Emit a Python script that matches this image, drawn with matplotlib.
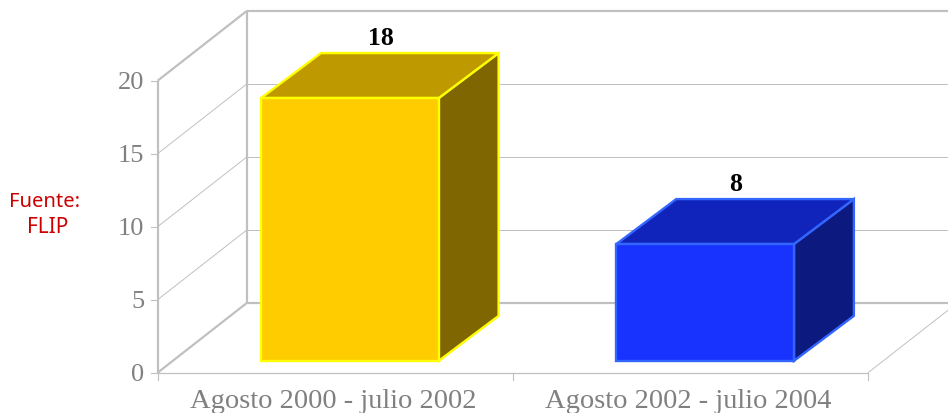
import matplotlib
matplotlib.use("Agg")
import matplotlib.pyplot as plt
from matplotlib.patches import Polygon

categories = ["Agosto 2000 - julio 2002", "Agosto 2002 - julio 2004"]
values = [18, 8]
y_ticks = [0, 5, 10, 15, 20]

COLOR_WALL = "#c0c0c0"
COLOR_TEXT = "#808080"
BAR_STYLES = [
    dict(front="#ffcc00", top="#bf9900", side="#806600", edge="#ffff00"),
    dict(front="#1933ff", top="#1024bb", side="#0c1a80", edge="#3366ff"),
]

W, H = 948, 414
X0_PX, X_UNIT_PX = 157.5, 355.25   # where category 0 starts, width of a category
Y0_PX, Y_UNIT_PX = 373.8, 14.6     # pixel row of value 0, pixels per unit
DEPTH_X = 89.5 / X_UNIT_PX         # oblique offset of the back wall, data units
DEPTH_Y = 70.0 / Y_UNIT_PX
BAR_W = 0.5
BAR_SHIFT = -0.5 / X_UNIT_PX
BAR_F0, BAR_F1 = 0.171, 0.84       # bar extent along the depth
BAR_DY = 0.96                      # bars are a little flatter than the walls


def pt(x, y, f=0.0):
    """Project (category x, value y, depth fraction f) on the oblique plane."""
    return (x + f * DEPTH_X, y + f * DEPTH_Y)


def bar_pt(x, y, f):
    """Same as pt, for a bar corner; the back edge of a bar sits a little lower."""
    g = BAR_F0 + (f - BAR_F0) * BAR_DY
    return (x + BAR_SHIFT + f * DEPTH_X, y + g * DEPTH_Y)


fig = plt.figure(figsize=(W / 100, H / 100), dpi=100)
ax = fig.add_axes([0, 0, 1, 1])
ax.set_xlim(-X0_PX / X_UNIT_PX, (W - X0_PX) / X_UNIT_PX)
ax.set_ylim(-(H - Y0_PX) / Y_UNIT_PX, Y0_PX / Y_UNIT_PX)
ax.axis("off")

n = len(categories)
x_end = n + 0.5  # back wall runs past the right edge of the picture
y_top = y_ticks[-1]


def line(a, b, lw):
    ax.plot([a[0], b[0]], [a[1], b[1]], color=COLOR_WALL, linewidth=lw,
            solid_capstyle="butt", zorder=1)


# Walls and gridlines
for v in y_ticks:
    thick = v in (y_ticks[0], y_ticks[-1])
    line(pt(0, v, 0), pt(0, v, 1), 1.6 if thick else 0.7)
    line(pt(0, v, 1), pt(x_end, v, 1), 1.6 if thick else 0.7)
    # tick mark on the front axis
    ax.plot([-7 / X_UNIT_PX, 0], [v, v], color=COLOR_WALL, linewidth=0.8, zorder=1)
    ax.text(-13 / X_UNIT_PX, v + 1 / Y_UNIT_PX, str(v), ha="right", va="center_baseline",
            family="Liberation Serif", fontsize=19, color=COLOR_TEXT)
line(pt(0, 0, 0), pt(0, y_top, 0), 1.6)
line(pt(0, 0, 1), pt(0, y_top, 1), 1.6)
line(pt(0, 0, 0), pt(n, 0, 0), 0.9)
line(pt(n, 0, 0), pt(n, 0, 1), 0.7)
for i in range(n + 1):
    ax.plot([i, i], [0, -7 / Y_UNIT_PX], color=COLOR_WALL, linewidth=0.8, zorder=1)

# Bars
for i, (val, st) in enumerate(zip(values, BAR_STYLES)):
    x1 = i + 0.5 - BAR_W / 2
    x2 = i + 0.5 + BAR_W / 2
    faces = [
        (st["side"], [bar_pt(x2, 0, BAR_F0), bar_pt(x2, 0, BAR_F1), bar_pt(x2, val, BAR_F1), bar_pt(x2, val, BAR_F0)]),
        (st["top"], [bar_pt(x1, val, BAR_F0), bar_pt(x2, val, BAR_F0), bar_pt(x2, val, BAR_F1), bar_pt(x1, val, BAR_F1)]),
        (st["front"], [bar_pt(x1, 0, BAR_F0), bar_pt(x2, 0, BAR_F0), bar_pt(x2, val, BAR_F0), bar_pt(x1, val, BAR_F0)]),
    ]
    for color, verts in faces:
        ax.add_patch(Polygon(verts, closed=True, facecolor=color, edgecolor=st["edge"],
                             linewidth=1.7, joinstyle="miter", zorder=3))
    lx = bar_pt(i + 0.5, val, (BAR_F0 + BAR_F1) / 2)[0] + 1 / X_UNIT_PX
    ly = bar_pt(i, val, BAR_F1)[1] + 9.5 / Y_UNIT_PX
    ax.text(lx, ly, str(val), ha="center", va="baseline",
            family="Liberation Serif", fontsize=18.5, fontweight="bold", color="black", zorder=4)
    ax.text(i + 0.5 - 2 / X_UNIT_PX, -34.5 / Y_UNIT_PX, categories[i], ha="center", va="baseline",
            family="Liberation Serif", fontsize=20.5, color=COLOR_TEXT)

# Source note
ax.text(44.5 / W, 1 - 202 / H, "Fuente:", transform=ax.transAxes, ha="center", va="center",
        family="Noto Sans", fontsize=14.5, color="#cc0000")
ax.text(48 / W, 1 - 228 / H, "FLIP", transform=ax.transAxes, ha="center", va="center",
        family="Noto Sans", fontsize=15, color="#cc0000")

fig.savefig("out.png", dpi=100)
